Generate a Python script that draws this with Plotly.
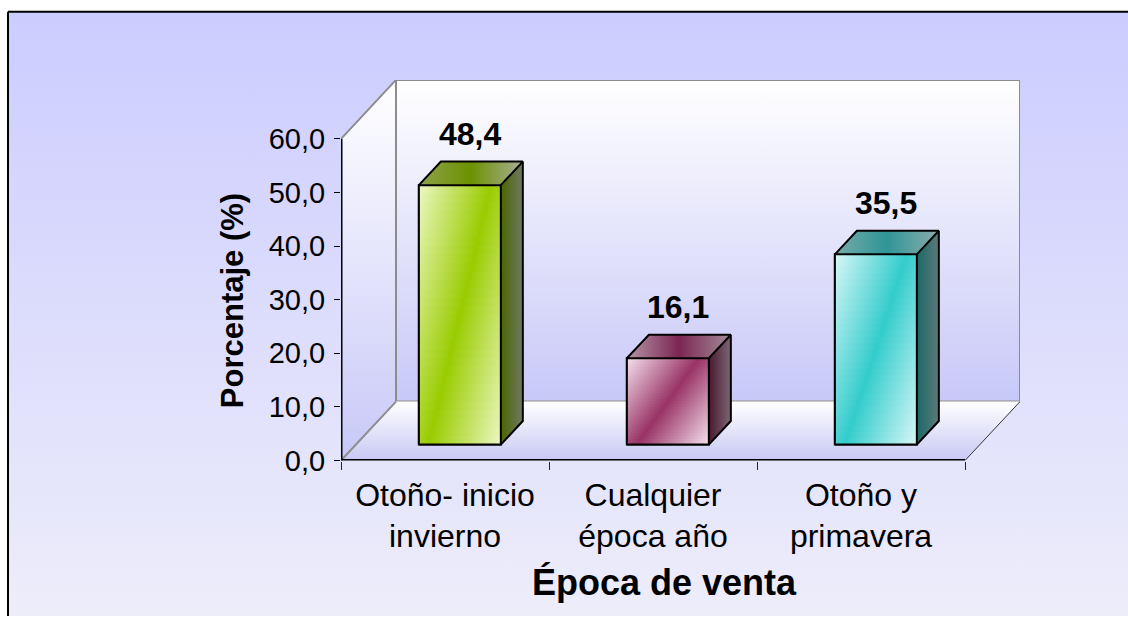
import plotly.graph_objects as go

# ---------------- data ----------------
CATEGORIES = ["Otoño- inicio<br>invierno", "Cualquier<br>época año", "Otoño y<br>primavera"]
VALUES = [48.4, 16.1, 35.5]
VALUE_LABELS = ["48,4", "16,1", "35,5"]
Y_TICK_VALUES = [0, 10, 20, 30, 40, 50, 60]
Y_TICK_TEXT = ["0,0", "10,0", "20,0", "30,0", "40,0", "50,0", "60,0"]
X_TITLE = "Época de venta"
Y_TITLE = "Porcentaje (%)"

# ---------------- styles ----------------
PALE = ["#eef8c6", "#f6e4ef", "#dcf8f8"]
SAT = ["#99cc00", "#993366", "#33cccc"]
TOP_SCALE = [
    [[0, "#8ea24a"], [0.5, "#6c9200"], [1, "#a9ae98"]],
    [[0, "#b794a8"], [0.5, "#7a2652"], [1, "#a48c9a"]],
    [[0, "#78aaaa"], [0.5, "#2f9696"], [1, "#8cacac"]],
]
SIDE_SCALE = [
    [[0, "#4a6600"], [1, "#707864"]],
    [[0, "#4a1830"], [1, "#7c6874"]],
    [[0, "#1c6868"], [1, "#5e7a7a"]],
]
FONT = "Arial, Liberation Sans, sans-serif"

W, H = 1128, 632
YMAX = 60
NCAT = len(CATEGORIES)
DX, DY = 0.2644, 11.0     # depth of the 3-D box in axis units
F0, F1 = 0.27, 0.67       # front / back depth of the bars
BW = 0.394                # bar width in category units
NSTRIP = 30

fig = go.Figure()

# paper background (gradient) on a full-page helper subplot
fig.add_trace(go.Scatter(
    x=[8, 1140, 1140, 8, 8], y=[H - 12, H - 12, -20, -20, H - 12],
    mode="lines", fill="toself",
    fillgradient=dict(type="vertical", colorscale=[[0, "#eeeefa"], [1, "#ccccff"]]),
    line=dict(color="black", width=2),
    xaxis="x", yaxis="y", hoverinfo="skip", showlegend=False))

def poly(xs, ys, **kw):
    fig.add_trace(go.Scatter(x=xs, y=ys, hoverinfo="skip", showlegend=False, **kw))

# ---------------- walls & floor (x2/y2) ----------------
wall_scale = [[0, "#c8c8f8"], [1, "#ffffff"]]
poly([0, 0, DX, DX, 0], [0, YMAX, YMAX + DY, DY, 0], mode="none", fill="toself",
     fillgradient=dict(type="vertical", colorscale=wall_scale), xaxis="x2", yaxis="y2")
poly([DX, NCAT + DX, NCAT + DX, DX, DX], [DY, DY, YMAX + DY, YMAX + DY, DY], mode="lines",
     fill="toself", fillgradient=dict(type="vertical", colorscale=wall_scale),
     line=dict(color="#8c8c8c", width=2), xaxis="x2", yaxis="y2")
poly([0, NCAT, NCAT + DX, DX, 0], [0, 0, DY, DY, 0], mode="none", fill="toself",
     fillgradient=dict(type="vertical", colorscale=[[0, "#c8c8f4"], [1, "#ffffff"]]),
     xaxis="x2", yaxis="y2")
poly([0, DX, None, 0, DX], [YMAX, YMAX + DY, None, 0, DY], mode="lines",
     line=dict(color="#8c8c8c", width=2), xaxis="x2", yaxis="y2")
poly([NCAT, NCAT + DX], [0, DY], mode="lines", line=dict(color="#333333", width=1),
     xaxis="x2", yaxis="y2")

# ---------------- bars (overlay x3/y3) ----------------
centers = [i + 0.5 + F0 * DX for i in range(NCAT)]
fig.add_trace(go.Bar(
    x=centers, y=VALUES, base=F0 * DY, width=BW,
    marker=dict(color=SAT, line=dict(color="black", width=2)),
    xaxis="x3", yaxis="y3", hoverinfo="skip", showlegend=False))

ddx, ddy = (F1 - F0) * DX, (F1 - F0) * DY
for i, v in enumerate(VALUES):
    cx = centers[i]
    x0, x1 = cx - BW / 2, cx + BW / 2
    y0 = F0 * DY
    y1 = y0 + v
    for k in range(NSTRIP):
        ya = y0 + (y1 - y0) * k / NSTRIP
        yb = min(y1, y0 + (y1 - y0) * (k + 1.4) / NSTRIP)
        vm = (k + 0.5) / NSTRIP
        band = x0 + (0.12 + 0.76 * vm) * BW
        poly([x0, x1, x1, x0, x0], [ya, ya, yb, yb, ya], mode="none", fill="toself",
             fillgradient=dict(type="horizontal",
                               colorscale=[[0, PALE[i]], [0.5, SAT[i]], [1, PALE[i]]],
                               start=band - 0.9 * BW, stop=band + 0.9 * BW),
             xaxis="x3", yaxis="y3")
    poly([x0, x1, x1 + ddx, x0 + ddx, x0], [y1, y1, y1 + ddy, y1 + ddy, y1], mode="none",
         fill="toself", fillgradient=dict(type="horizontal", colorscale=TOP_SCALE[i]),
         xaxis="x3", yaxis="y3")
    poly([x1, x1 + ddx, x1 + ddx, x1, x1], [y0, y0 + ddy, y1 + ddy, y1, y0], mode="none",
         fill="toself", fillgradient=dict(type="horizontal", colorscale=SIDE_SCALE[i]),
         xaxis="x3", yaxis="y3")
    poly([x0, x1, x1, x0, x0, None, x0, x0 + ddx, x1 + ddx, x1, None,
          x1 + ddx, x1 + ddx, x1],
         [y0, y0, y1, y1, y0, None, y1, y1 + ddy, y1 + ddy, y1, None,
          y1 + ddy, y0 + ddy, y0],
         mode="lines", line=dict(color="black", width=2), xaxis="x3", yaxis="y3")

poly([0, 0, None, 0, NCAT], [0, YMAX, None, 0, 0], mode="lines",
     line=dict(color="black", width=3), xaxis="x3", yaxis="y3")

# ---------------- annotations ----------------
annotations = []
for i, v in enumerate(VALUES):
    annotations.append(dict(x=i + 0.5 + 0.12, y=v + 12.6, xref="x2", yref="y2",
                            xanchor="center", yanchor="middle",
                            text=VALUE_LABELS[i], showarrow=False,
                            font=dict(family=FONT, size=32, color="black", weight="bold")))
annotations.append(dict(x=232 / W, y=1 - 309 / H, xref="paper", yref="paper",
                        xanchor="center", yanchor="middle",
                        text=Y_TITLE, textangle=-90, showarrow=False,
                        font=dict(family=FONT, size=31, color="black", weight="bold")))
annotations.append(dict(x=664 / W, y=1 - 598 / H, xref="paper", yref="paper",
                        xanchor="center", yanchor="middle",
                        text=X_TITLE, showarrow=False,
                        font=dict(family=FONT, size=36, color="black", weight="bold")))

x_dom = [341 / W, 1020 / W]
y_dom = [1 - 472.5 / H, 1 - 82 / H]
xr = [0, NCAT + DX]
yr = [0, YMAX + DY]

fig.update_layout(
    width=W, height=H,
    margin=dict(l=0, r=0, t=0, b=0),
    paper_bgcolor="white", plot_bgcolor="rgba(0,0,0,0)",
    showlegend=False,
    font=dict(family=FONT, color="black"),
    barmode="overlay",
    xaxis=dict(domain=[0, 1], range=[0, W], visible=False, fixedrange=True),
    yaxis=dict(domain=[0, 1], range=[0, H], visible=False, fixedrange=True),
    xaxis2=dict(domain=x_dom, range=xr, anchor="y2",
                tickmode="array", tickvals=[i + 0.5 for i in range(NCAT)],
                ticktext=CATEGORIES, ticks="",
                minor=dict(tickmode="array", tickvals=list(range(NCAT + 1)),
                           ticks="outside", ticklen=8, tickcolor="#222222", tickwidth=1),
                tickfont=dict(family=FONT, size=32, color="black"),
                ticklabelstandoff=12,
                showgrid=False, zeroline=False, showline=False, fixedrange=True),
    yaxis2=dict(domain=y_dom, range=yr, anchor="x2",
                tickmode="array", tickvals=Y_TICK_VALUES, ticktext=Y_TICK_TEXT,
                ticks="outside", ticklen=6, tickcolor="black", tickwidth=1,
                tickfont=dict(family=FONT, size=29, color="black"),
                ticklabelstandoff=3,
                showgrid=False, zeroline=False, showline=False, fixedrange=True),
    xaxis3=dict(overlaying="x2", range=xr, anchor="y3", visible=False, fixedrange=True),
    yaxis3=dict(overlaying="y2", range=yr, anchor="x3", visible=False, fixedrange=True),
    annotations=annotations,
)

fig.write_html("out.html", config={"displayModeBar": False},
               post_script="document.body.style.margin='0';document.body.style.overflow='hidden';")
